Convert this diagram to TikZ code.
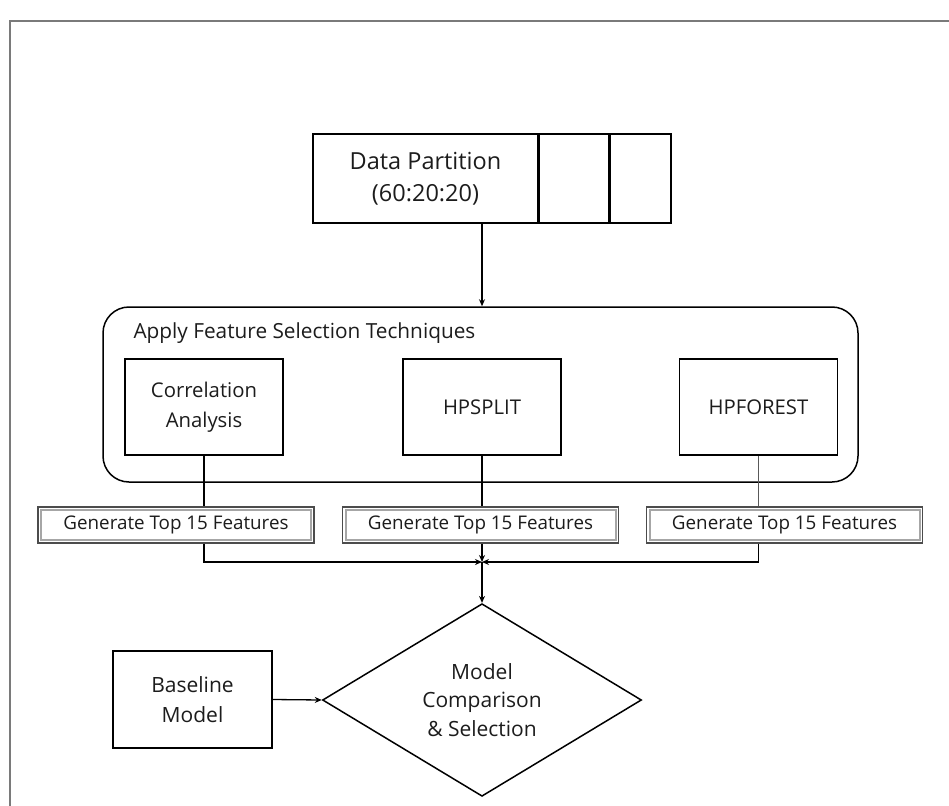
\documentclass[tikz,border=0pt]{standalone}
\usepackage{fontspec}
\setmainfont{Open Sans}
\usetikzlibrary{arrows.meta,shapes.geometric,calc}

\definecolor{txt}{HTML}{1C1C1C}
\definecolor{framegray}{HTML}{7A7A7A}

\tikzset{
  every node/.style={text=txt},
  stepbox/.style={draw=black, line width=1.5pt, fill=white, align=center, inner sep=0pt,
    minimum width=158pt, minimum height=96pt},
  genbox/.style={draw=black!70, line width=1.5pt, fill=white, inner sep=0pt,
    minimum width=276pt, minimum height=36pt,
    font=\fontsize{18.8}{20}\selectfont,
    path picture={\draw[black!35, line width=2pt]
      ([shift={(3pt,-3pt)}]path picture bounding box.north west) rectangle
      ([shift={(-3pt,3pt)}]path picture bounding box.south east);}},
  link/.style={draw=black, line width=1.3pt},
  arr/.style={link, -{Stealth[length=7pt,width=6pt]}},
}

\begin{document}
\begin{tikzpicture}[x=1pt,y=-1pt]
  \useasboundingbox (0,0) rectangle (949,805);

  % page frame (only its top and left edges fall inside the picture)
  \draw[framegray, line width=2pt] (10,830) -- (10,21) -- (980,21);

  % data partition block with its two side columns
  \node[draw=black, line width=1.5pt, minimum width=225pt, minimum height=89pt, inner sep=0pt,
        align=center, font=\fontsize{23.5}{32}\selectfont] (dp) at (425.5,178.5)
        {Data Partition\\(60:20:20)};
  \node[draw=black, line width=1.5pt, minimum width=69pt, minimum height=89pt, inner sep=0pt,
        anchor=west] (dpv) at (dp.east) {};
  \node[draw=black, line width=1.5pt, minimum width=61pt, minimum height=89pt, inner sep=0pt,
        anchor=west] (dpt) at (dpv.east) {};

  % feature selection group
  \node[draw=black, line width=1.5pt, rounded corners=26pt, minimum width=755pt,
        minimum height=175pt, inner sep=0pt] (fs) at (480.5,394.5) {};
  \node[anchor=west, font=\fontsize{20.8}{24}\selectfont] (fstitle) at (130,333)
        {Apply Feature Selection Techniques};

  \node[stepbox, font=\fontsize{20.3}{30}\selectfont] (corr) at (204,407) {Correlation\\Analysis};
  \node[stepbox, font=\fontsize{20.3}{24}\selectfont] (spl) at (482,407) {HPSPLIT};
  \node[stepbox, font=\fontsize{20.3}{24}\selectfont] (frs) at (758.5,407) {HPFOREST};

  % top-15 feature outputs
  \node[genbox] (g1) at (176,525) {Generate Top 15 Features};
  \node[genbox] (g2) at (480.5,525) {Generate Top 15 Features};
  \node[genbox] (g3) at (784.5,525) {Generate Top 15 Features};

  \coordinate (j) at (482,562);

  % model comparison
  \node[draw=black, line width=1.5pt, shape=diamond, minimum width=319pt, minimum height=176pt,
        inner sep=0pt, align=center, font=\fontsize{21}{28.5}\selectfont] (mc) at (482,700)
        {Model\\Comparison\\\& Selection};
  \node[stepbox, minimum width=159pt, minimum height=97pt, font=\fontsize{21}{30}\selectfont]
        (base) at (192.5,699.5) {Baseline\\Model};

  % connectors
  \draw[arr] (dp.south -| spl) -- (fs.north -| spl);
  \draw[link] (corr.south) -- (corr.south |- g1.north);
  \draw[link] (spl.south) -- (spl.south |- g2.north);
  \draw[link, draw=black!65] (frs.south) -- (frs.south |- g3.north);
  \draw[arr] (corr.south |- g1.south) -- (corr.south |- j) -- (j);
  \draw[arr] (frs.south |- g3.south) -- (frs.south |- j) -- (j);
  \draw[arr] (spl.south |- g2.south) -- (j);
  \draw[arr] (j) -- (mc.north);
  \draw[arr] (base.east) -- (mc.west);
\end{tikzpicture}
\end{document}
